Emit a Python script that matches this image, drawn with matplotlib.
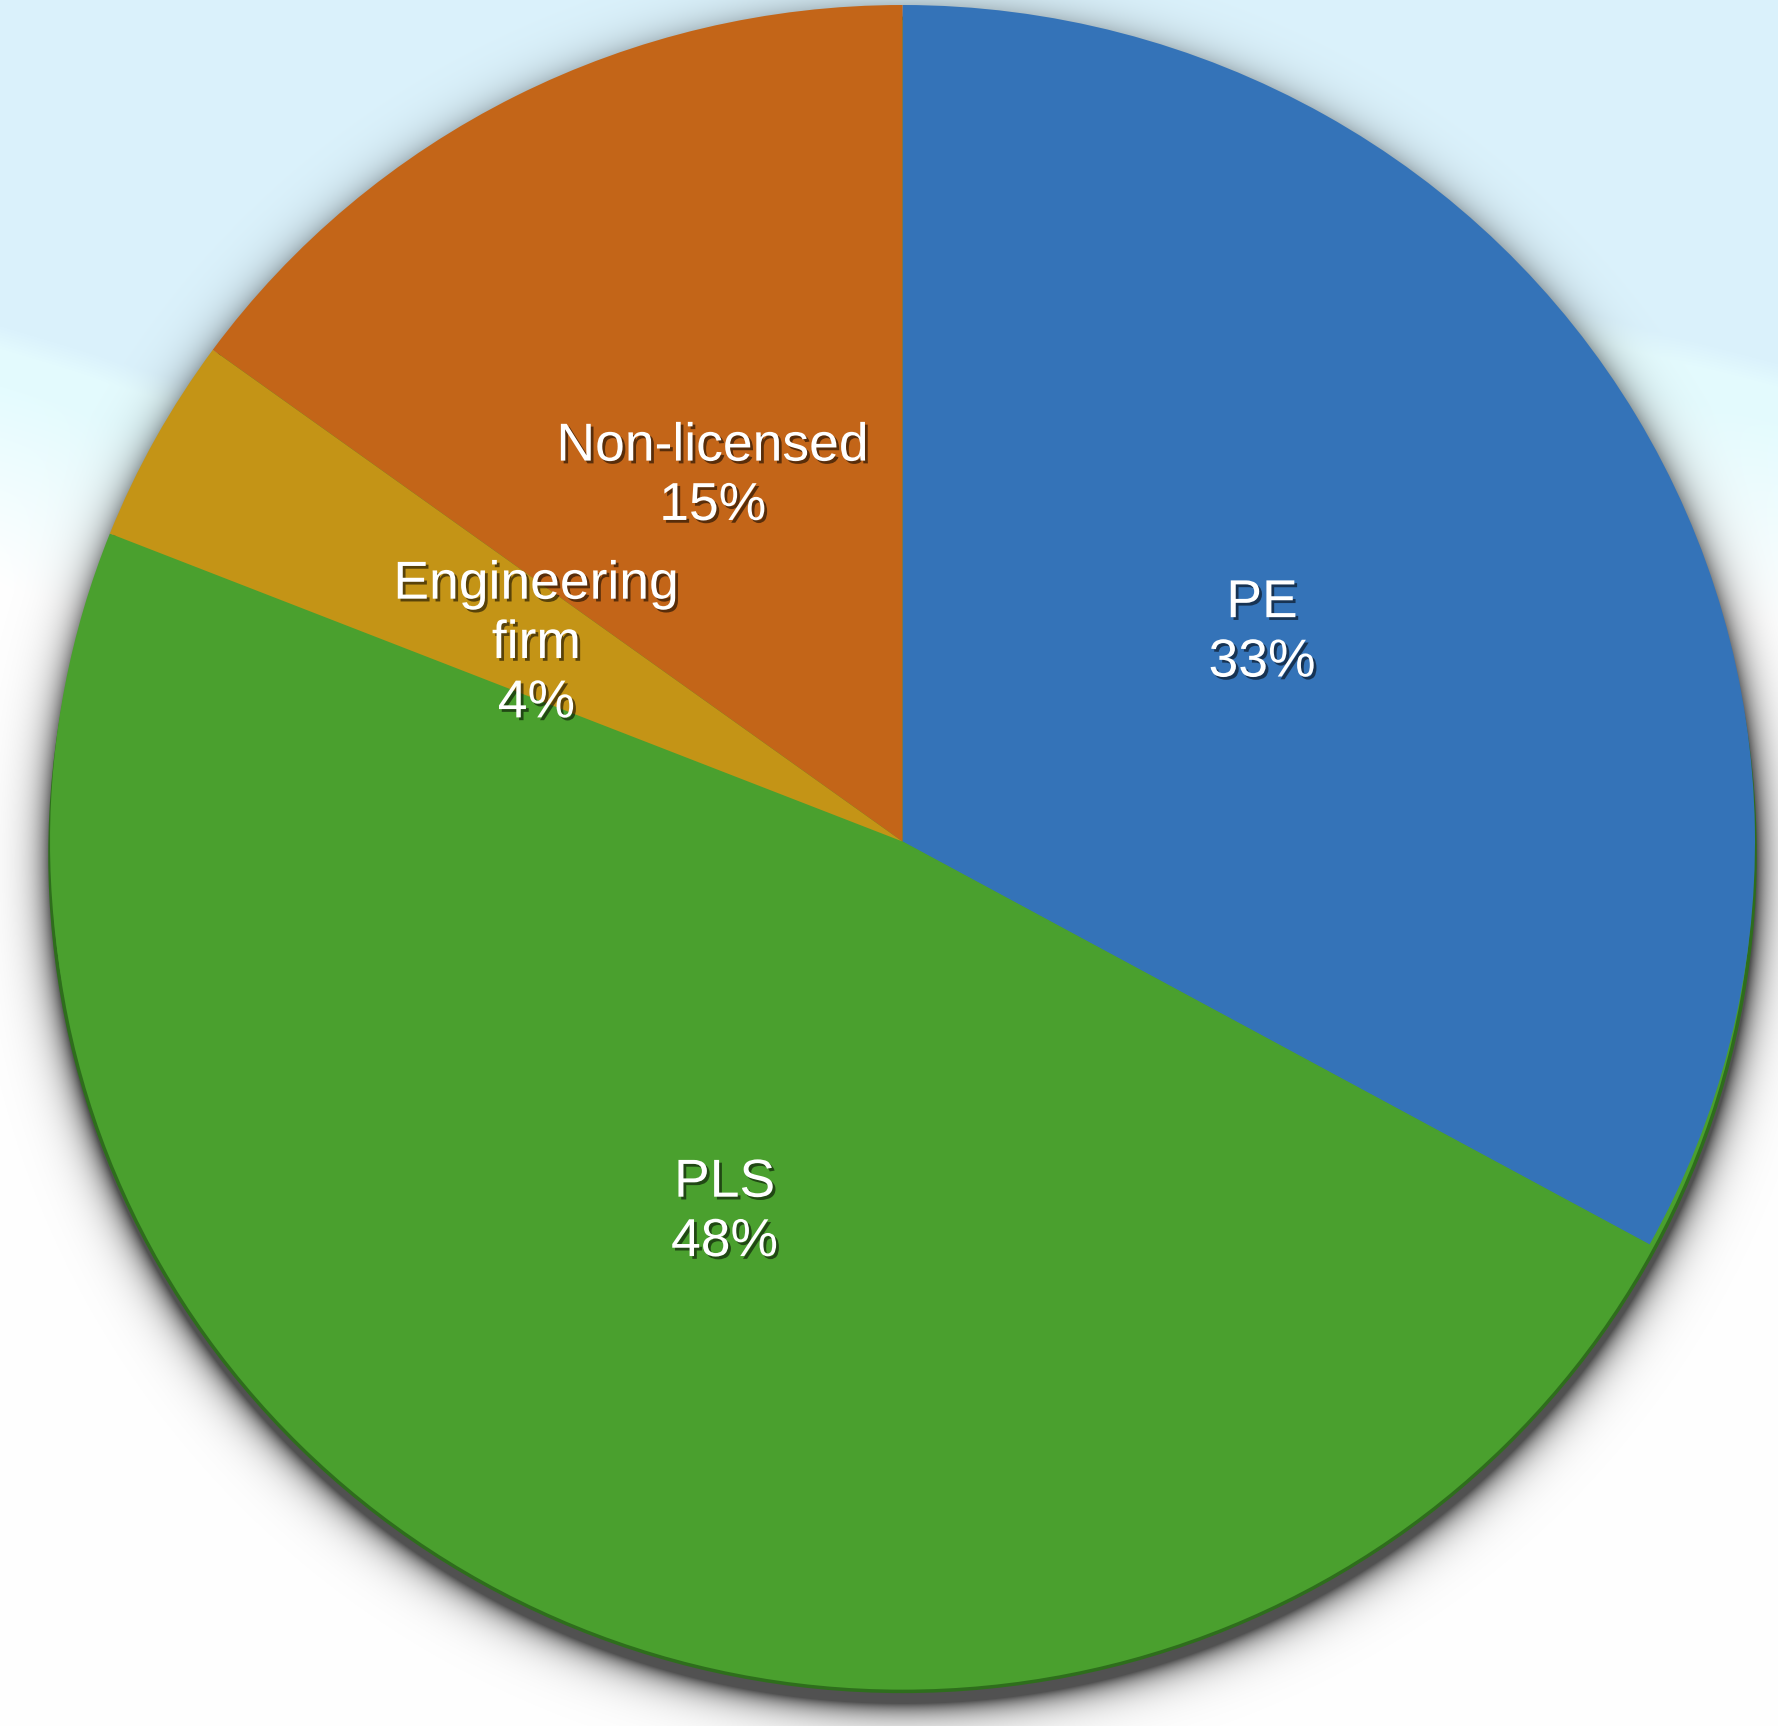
import textwrap
import numpy as np
import matplotlib
matplotlib.use("Agg")
import matplotlib.pyplot as plt
import matplotlib.patheffects as pe
from matplotlib.patches import Ellipse

# ---- data ----
categories = ["PE", "PLS", "Engineering firm", "Non-licensed"]
values = [33, 48, 4, 15]
colors = ["#3473B8", "#4AA02E", "#C49416", "#C36518"]

W, H = 1778, 1726
fig = plt.figure(figsize=(W / 100, H / 100), dpi=100)

# ---- background (sky gradient + drop shadow) ----
yy, xx = np.mgrid[0:H, 0:W].astype(float)
sky = np.array([219, 242, 252]) / 255.0
pale = np.array([228, 251, 254]) / 255.0
white = np.array([1.0, 1.0, 1.0])
yb = np.interp(xx, [0, 200, 900, 1500, 1778], [327, 387, 330, 290, 365])
t1 = np.clip((yy - yb) / 25.0, 0, 1)[..., None]
t2 = np.clip((yy - yb - 60) / 200.0, 0, 1)[..., None]
img = sky * (1 - t1) + pale * t1
img = img * (1 - t2) + white * t2

# shadow under the pie
cx, cy, rx, ry = 903.0, 863.0, 853.0, 840.0
d = np.sqrt(((xx - cx) / rx) ** 2 + ((yy - cy) / ry) ** 2)
dist = (d - 1.0) * (rx + ry) / 2
shadow = np.where(dist > 0, 0.8 * np.exp(-dist / 15.0), 0.8)[..., None]
img = img * (1 - shadow) + np.array([0.15, 0.15, 0.15]) * shadow

bg = fig.add_axes([0, 0, 1, 1])
bg.imshow(img, extent=(0, W, H, 0), aspect="auto", interpolation="bilinear")
bg.set_xlim(0, W)
bg.set_ylim(H, 0)
bg.axis("off")

# ---- pie ----
left, right, top, bottom = 50, 1755, 5, 1678
ax = fig.add_axes([left / W, (H - bottom) / H, (right - left) / W, (bottom - top) / H])
ax.patch.set_alpha(0)

side = Ellipse((0, -0.016), 2, 2, facecolor=colors[1], edgecolor="#2E6E1C",
               linewidth=2.5, zorder=0, clip_on=False)
ax.add_patch(side)

wedges, _ = ax.pie(values, colors=colors, startangle=90, counterclock=False,
                   radius=1, wedgeprops=dict(linewidth=0, edgecolor="none"))
for w in wedges:
    w.set_zorder(1)
    w.set_clip_on(False)

ax.set_aspect("auto")
ax.set_xlim(-1, 1)
ax.set_ylim(-1, 1)
ax.axis("off")

shadow_fx = [pe.withSimplePatchShadow(offset=(2, -2), shadow_rgbFace="black", alpha=0.55)]
for w, cat, v in zip(wedges, categories, values):
    ang = np.deg2rad((w.theta1 + w.theta2) / 2)
    r = 0.49
    label = textwrap.fill(cat, 12, break_on_hyphens=False) + f"\n{v}%"
    ax.text(r * np.cos(ang), r * np.sin(ang), label, ha="center", va="center",
            fontsize=38.5, color="white", family=["Liberation Sans", "DejaVu Sans"],
            linespacing=1.24, zorder=5, path_effects=shadow_fx)

fig.savefig("out.png", dpi=100)
